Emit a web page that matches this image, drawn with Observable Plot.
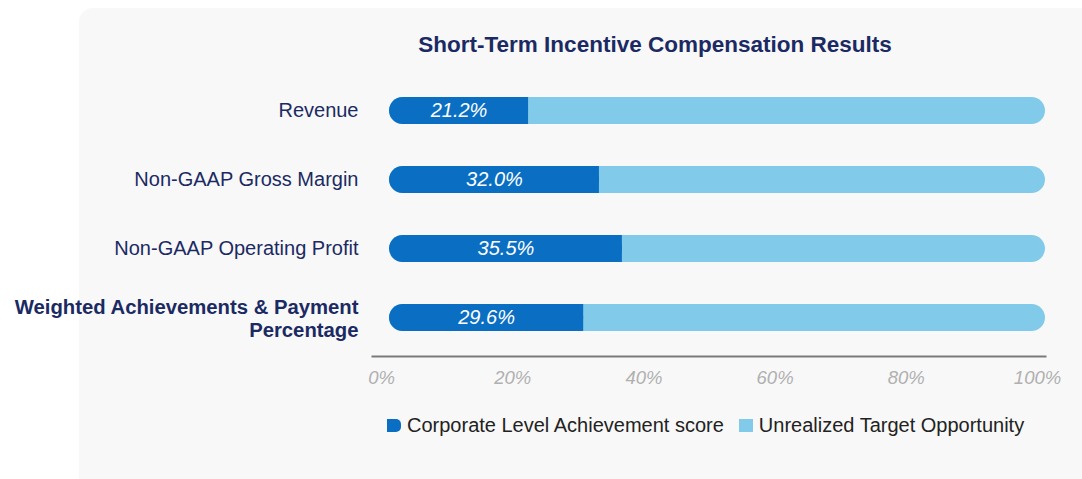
<!DOCTYPE html>
<html>
<head>
<meta charset="utf-8">
<script src="https://cdn.jsdelivr.net/npm/d3@7"></script>
<script src="https://cdn.jsdelivr.net/npm/@observablehq/plot@0.6"></script>
<style>
  html, body { margin: 0; padding: 0; background: #ffffff; }
  #wrap { position: relative; width: 1082px; height: 479px; overflow: hidden; font-family: "Liberation Sans", Arial, sans-serif; }
  #panel { position: absolute; left: 79px; top: 8px; width: 1020px; height: 490px; background: #f8f8f8; border-radius: 14px; }
  #title { position: absolute; left: 0; top: 31px; width: 1082px; padding-left: 228px; box-sizing: border-box; text-align: center; font-weight: bold; font-size: 22.5px; line-height: 28px; color: #1b2a63; }
  #chart { position: absolute; left: 0; top: 60px; }
  #legend { position: absolute; left: 387px; top: 412px; font-size: 20px; line-height: 26px; color: #222; display: flex; align-items: center; }
  .sw { display: inline-block; width: 14px; height: 13px; margin-right: 6px; }
  .item { display: flex; align-items: center; margin-right: 15px; }
</style>
</head>
<body>
<div id="wrap">
  <div id="panel"></div>
  <div id="title"></div>
  <div id="chart"></div>
  <div id="legend"></div>
</div>
<script>
const title = "Short-Term Incentive Compensation Results";
const categories = [
  "Revenue",
  "Non-GAAP Gross Margin",
  "Non-GAAP Operating Profit",
  "Weighted Achievements & Payment\nPercentage"
];
const achieved = [0.212, 0.320, 0.355, 0.296];
const seriesNames = ["Corporate Level Achievement score", "Unrealized Target Opportunity"];
const seriesColors = ["#0a6fc2", "#82caea"];
const xTicks = [0, 0.2, 0.4, 0.6, 0.8, 1.0];
const boldCategories = ["Weighted Achievements & Payment\nPercentage"];

const rows = categories.map((c, i) => ({cat: c, value: achieved[i], total: 1}));

document.getElementById("title").textContent = title;

const plot = Plot.plot({
  width: 1082,
  height: 336,
  marginLeft: 372,
  marginRight: 37,
  marginTop: 12,
  marginBottom: 40,
  style: {background: "transparent", fontFamily: "'Liberation Sans', Arial, sans-serif", overflow: "visible"},
  x: {domain: [-17 / 656, 1]},
  y: {domain: categories, paddingInner: 0.61, paddingOuter: 0.354},
  marks: [
    Plot.barX(rows, {x1: 0, x2: "total", y: "cat", fill: seriesColors[1], rx: 13.5}),
    Plot.barX(rows, {x1: 0, x2: "value", y: "cat", fill: seriesColors[0], rx: 13.5}),
    Plot.barX(rows, {x1: 0, x2: "value", y: "cat", fill: seriesColors[0], insetLeft: 15}),
    Plot.text(rows, {x: d => d.value / 2, y: "cat", text: d => d3.format(".1%")(d.value), fill: "white", fontSize: 20, fontStyle: "italic"}),
    Plot.frame({anchor: "bottom", stroke: "#7a7a7a", strokeWidth: 2}),
    Plot.axisX({ticks: xTicks, tickFormat: d3.format(".0%"), tickSize: 0, tickPadding: 14, dx: -8, fontSize: 18.5, fontStyle: "italic", fill: "#b0b0b0", label: null}),
    Plot.axisY({ticks: categories.filter(c => !boldCategories.includes(c)), tickSize: 0, tickPadding: 14, fontSize: 20, fill: "#1b2a63", label: null}),
    Plot.axisY({ticks: boldCategories, tickSize: 0, tickPadding: 14, fontSize: 20.3, fontWeight: "bold", fill: "#1b2a63", label: null, lineHeight: 1.15})
  ]
});
document.getElementById("chart").appendChild(plot);

const legend = document.getElementById("legend");
seriesNames.forEach((n, i) => {
  const item = document.createElement("span");
  item.className = "item";
  const sw = document.createElement("span");
  sw.className = "sw";
  sw.style.background = seriesColors[i];
  if (i === 0) sw.style.borderRadius = "0 5px 5px 0";
  const t = document.createElement("span");
  t.textContent = n;
  item.appendChild(sw);
  item.appendChild(t);
  legend.appendChild(item);
});
</script>
</body>
</html>
